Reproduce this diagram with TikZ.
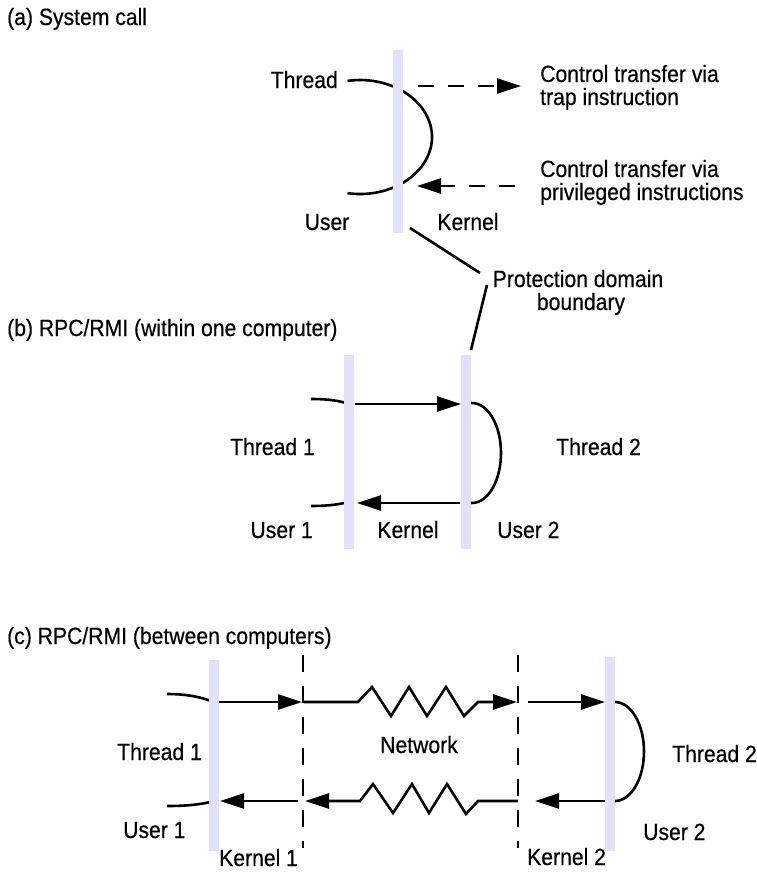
\documentclass[tikz,border=0pt]{standalone}
\usepackage{fontspec}
\setmainfont{Liberation Sans}[FakeStretch=0.9, FakeBold=0.4]
\usetikzlibrary{arrows.meta}
\definecolor{barcol}{RGB}{225,225,251}
\begin{document}
\begin{tikzpicture}[x=1pt,y=-1pt,
  txt/.style={inner sep=0pt, font=\fontsize{23.5}{24}\selectfont},
  bar/.style={fill=barcol, draw=none, minimum width=10.5pt, inner sep=0pt},
  conn/.style={line width=2.6pt},
  arr/.style={conn, -{Triangle[length=24pt,width=15pt]}},
  dsh/.style={line width=2.6pt, dash pattern=on 16pt off 14pt, -{Triangle[length=24pt,width=15pt]}},
  vdsh/.style={line width=2.6pt, dash pattern=on 17pt off 14pt}]
\useasboundingbox (0,0) rectangle (756,873);

% ---------- (a) System call ----------
\node[txt, anchor=base west] (titleA) at (7,25) {(a) System call};
\draw[conn] (347.5,80.9) arc[start angle=-100, end angle=100, x radius=72, y radius=57];
\node[bar, minimum height=183pt] (barA) at (398,141.5) {};
\node[txt, anchor=base east] (threadA) at (338,88) {Thread};
\node[txt, anchor=base west] (ctrlA1) at (540,82) {Control transfer via};
\node[txt, anchor=base west] (ctrlA2) at (540,105) {trap instruction};
\node[txt, anchor=base west] (ctrlB1) at (540,177) {Control transfer via};
\node[txt, anchor=base west] (ctrlB2) at (540,200) {privileged instructions};
\node[txt, anchor=base] (userA) at (327,230) {User};
\node[txt, anchor=base] (kernelA) at (468,230) {Kernel};
\coordinate (a1s) at (418,86);  \coordinate (a1e) at (521,86);
\coordinate (a2s) at (515,186); \coordinate (a2e) at (417,186);
\draw[dsh] (a1s) -- (a1e);
\draw[dsh] (a2s) -- (a2e);

% protection domain label
\node[txt, anchor=base] (prot1) at (578,287) {Protection domain};
\node[txt, anchor=base] (prot2) at (581,310) {boundary};
\coordinate (pa) at (410,228); \coordinate (pb) at (480,273);
\coordinate (pc) at (487,285); \coordinate (pd) at (471,350);
\draw[conn] (pa) -- (pb);
\draw[conn] (pc) -- (pd);

% ---------- (b) RPC/RMI within one computer ----------
\node[txt, anchor=base west] (titleB) at (7,336) {(b) RPC/RMI (within one computer)};
\draw[conn] (311,399) .. controls (330,399) and (340,401) .. (349,404);
\draw[conn] (311,506) .. controls (330,506) and (340,504) .. (349,502);
\draw[conn] (466,403) -- (472,403) .. controls (488,403) and (501,425.4) .. (501,453)
  .. controls (501,480.6) and (488,503) .. (472,503) -- (466,503);
\node[bar, minimum height=194pt] (barB1) at (349,452) {};
\node[bar, minimum height=194pt] (barB2) at (466,452) {};
\coordinate (b1s) at (355,404); \coordinate (b1e) at (461,404);
\coordinate (b2s) at (460,503); \coordinate (b2e) at (357,503);
\draw[arr] (b1s) -- (b1e);
\draw[arr] (b2s) -- (b2e);
\node[txt, anchor=base east] (thread1B) at (315,455) {Thread 1};
\node[txt, anchor=base east] (user1B) at (313,538) {User 1};
\node[txt, anchor=base] (kernelB) at (408,538) {Kernel};
\node[txt, anchor=base west] (user2B) at (497,538) {User 2};
\node[txt, anchor=base west] (thread2B) at (556,455) {Thread 2};

% ---------- (c) RPC/RMI between computers ----------
\node[txt, anchor=base west] (titleC) at (7,644) {(c) RPC/RMI (between computers)};
\draw[conn] (167,694) .. controls (190,694) and (203,698) .. (214,702);
\draw[conn] (167,806) .. controls (190,806) and (203,804) .. (214,801);
\draw[conn] (610,702) -- (615,702) .. controls (631,702) and (644,724.3) .. (644,751.5)
  .. controls (644,778.8) and (631,801) .. (615,801) -- (610,801);
\node[bar, minimum height=191pt] (barC1) at (214,755.5) {};
\node[bar, minimum height=194pt] (barC2) at (610,754) {};
\coordinate (d1t) at (303,655); \coordinate (d1b) at (303,848);
\coordinate (d2t) at (518,655); \coordinate (d2b) at (518,848);
\draw[vdsh] (d1t) -- (d1b);
\draw[vdsh] (d2t) -- (d2b);

% top row (request)
\coordinate (c1s) at (219,702); \coordinate (c1e) at (302,702);
\draw[arr] (c1s) -- (c1e);
\coordinate (n1s) at (304,702); \coordinate (n1e) at (517,702);
\draw[arr, line join=miter] (n1s) -- (358,702) -- (372,687) -- (391,716) -- (409,687)
  -- (427,716) -- (446,687) -- (464,716) -- (478,702) -- (n1e);
\coordinate (c2s) at (528,702); \coordinate (c2e) at (605,702);
\draw[arr] (c2s) -- (c2e);

% bottom row (reply)
\coordinate (c3s) at (605,801); \coordinate (c3e) at (535,801);
\draw[arr] (c3s) -- (c3e);
\coordinate (n2s) at (518,801); \coordinate (n2e) at (305,801);
\draw[arr, line join=miter] (n2s) -- (478,801) -- (466,814) -- (447,784) -- (429,813)
  -- (412,784) -- (393,813) -- (373,784) -- (360,801) -- (n2e);
\coordinate (c4s) at (298,801); \coordinate (c4e) at (220,801);
\draw[arr] (c4s) -- (c4e);

\node[txt, anchor=base west] (thread1C) at (117,760) {Thread 1};
\node[txt, anchor=base west] (user1C) at (123,838) {User 1};
\node[txt, anchor=base] (netC) at (419,753) {Network};
\node[txt, anchor=base west] (kernel1C) at (219,866) {Kernel 1};
\node[txt, anchor=base west] (kernel2C) at (527,865) {Kernel 2};
\node[txt, anchor=base west] (thread2C) at (672,762) {Thread 2};
\node[txt, anchor=base west] (user2C) at (643,840) {User 2};
\end{tikzpicture}
\end{document}
